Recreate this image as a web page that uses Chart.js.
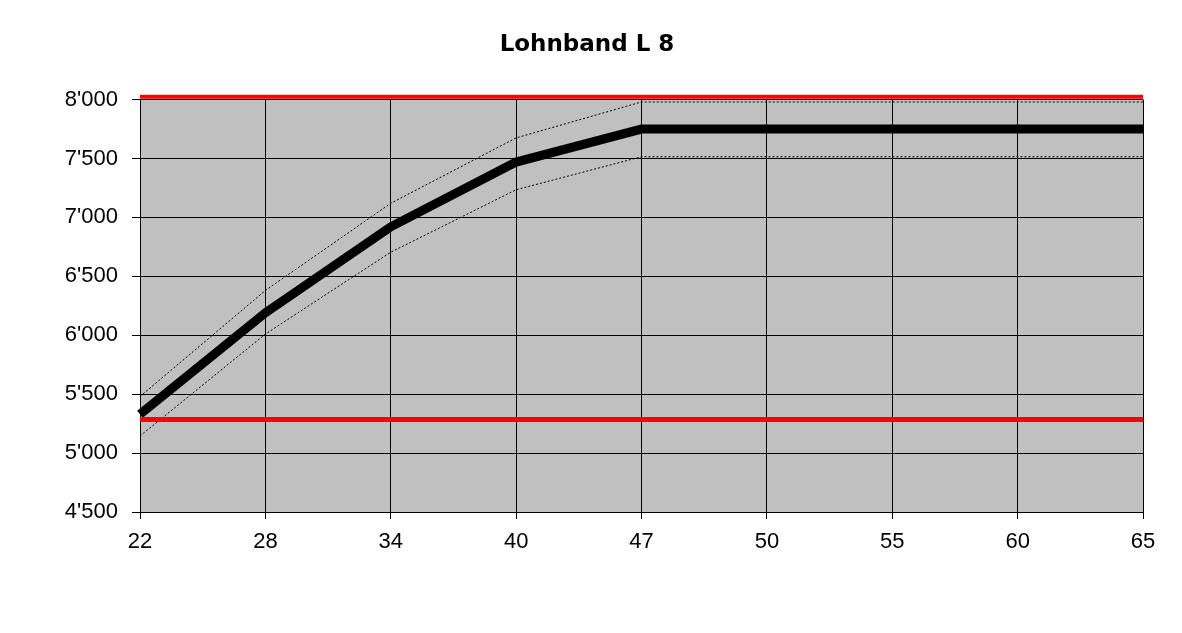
<!DOCTYPE html>
<html>
<head>
<meta charset="utf-8">
<script src="https://cdn.jsdelivr.net/npm/chart.js@4"></script>
<style>
  html, body { margin: 0; padding: 0; background: #fff; }
  #wrap { width: 1182px; height: 633px; }
</style>
</head>
<body>
<div id="wrap"><canvas id="myChart"></canvas></div>
<script>
// Alter (Kategorien)
var alter = ['22', '28', '34', '40', '47', '50', '55', '60', '65'];
// Lohn Mitte, obere und untere Bandbreite
var lohnMitte = [5330, 6190, 6920, 7470, 7750, 7750, 7750, 7750, 7750];
var lohnOben = [5480, 6380, 7120, 7675, 7980, 7980, 7980, 7980, 7980];
var lohnUnten = [5145, 6010, 6705, 7235, 7515, 7515, 7515, 7515, 7515];
// Grenzen Lohnband
var grenzeMax = 8025;
var grenzeMin = 5285;
var yTicks = [4500, 5000, 5500, 6000, 6500, 7000, 7500, 8000];

// grauer Hintergrund der Zeichenfläche
const plotBg = {
    id: 'plotBg',
    beforeDraw(chart) {
        const a = chart.chartArea;
        const ctx = chart.ctx;
        ctx.save();
        ctx.fillStyle = '#c0c0c0';
        ctx.fillRect(a.left, a.top, a.right - a.left, a.bottom - a.top);
        ctx.restore();
    }
};

function format(v) {
    var s = String(v);
    return s.slice(0, s.length - 3) + "'" + s.slice(-3);
}

const ctx = document.getElementById('myChart');
new Chart(ctx, {
    type: 'line',
    data: {
        labels: alter,
        datasets: [
            { label: 'Max', data: alter.map(() => grenzeMax), borderColor: '#ff0000', borderWidth: 4, pointRadius: 0, clip: false },
            { label: 'Min', data: alter.map(() => grenzeMin), borderColor: '#ff0000', borderWidth: 5, pointRadius: 0, clip: false },
            { label: 'Oben', data: lohnOben, borderColor: '#000', borderWidth: 1, borderDash: [2, 2], pointRadius: 0 },
            { label: 'Unten', data: lohnUnten, borderColor: '#000', borderWidth: 1, borderDash: [2, 2], pointRadius: 0 },
            { label: 'Mitte', data: lohnMitte, borderColor: '#000', borderWidth: 9, pointRadius: 0, clip: false }
        ]
    },
    options: {
        responsive: true,
        maintainAspectRatio: false,
        animation: false,
        layout: { padding: { left: 31, right: 39, top: 0, bottom: 0 } },
        plugins: {
            legend: { display: false },
            tooltip: { enabled: false },
            title: {
                display: true,
                text: 'Lohnband L 8',
                color: '#000',
                font: { family: 'DejaVu Sans', size: 23, weight: 'bold' },
                padding: { top: 31, bottom: 41 }
            }
        },
        scales: {
            x: {
                offset: false,
                grid: { color: '#000', lineWidth: 1, tickLength: 7, drawTicks: true },
                border: { color: '#000' },
                ticks: { color: '#000', font: { family: 'Liberation Sans', size: 22 }, padding: 10, maxRotation: 0 },
                afterFit(scale) { scale.height = 121; }
            },
            y: {
                min: 4500,
                max: 8000,
                afterBuildTicks(scale) { scale.ticks = yTicks.map(v => ({ value: v })); },
                grid: { color: '#000', lineWidth: 1, tickLength: 8, drawTicks: true },
                border: { color: '#000' },
                ticks: { color: '#000', font: { family: 'Liberation Sans', size: 22 }, padding: 14, callback: v => format(v) },
                afterFit(scale) { scale.width = 109; }
            }
        }
    },
    plugins: [plotBg]
});
</script>
</body>
</html>
